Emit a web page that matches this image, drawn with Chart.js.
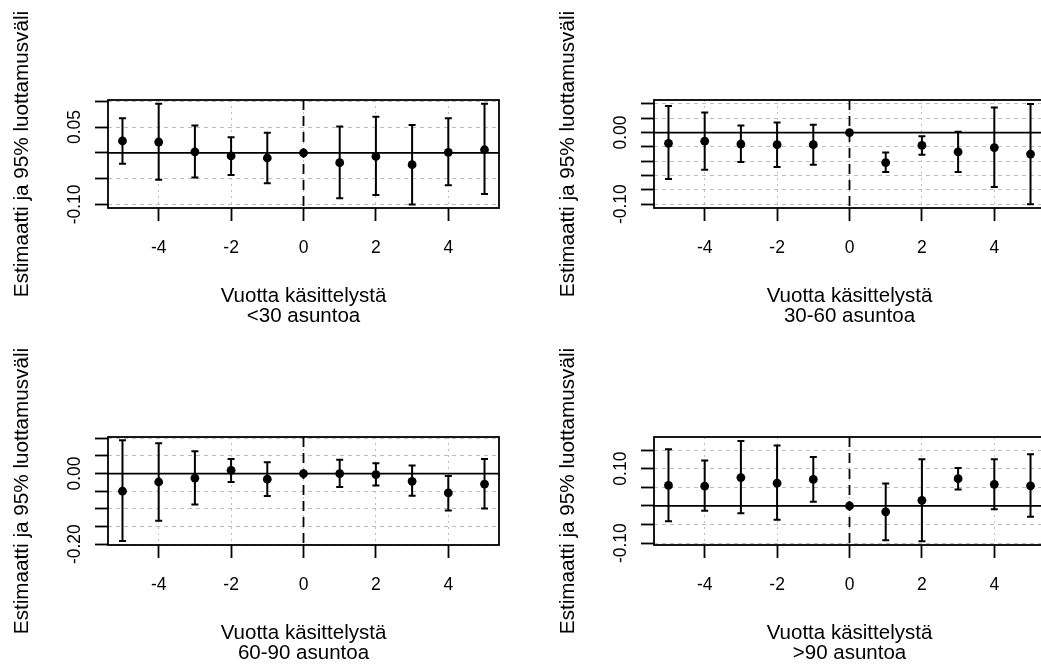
<!DOCTYPE html>
<html>
<head>
<meta charset="utf-8">
<script src="https://cdn.jsdelivr.net/npm/chart.js@4.4.1/dist/chart.umd.min.js"></script>
<style>
  html, body { margin: 0; padding: 0; background: #fff; }
  body { width: 1041px; height: 671px; overflow: hidden; position: relative; }
  canvas { position: absolute; }
</style>
</head>
<body>
<canvas id="p1" width="520" height="337" style="left:0px;top:0px"></canvas>
<canvas id="p2" width="560" height="337" style="left:520px;top:0px"></canvas>
<canvas id="p3" width="520" height="337" style="left:0px;top:337px"></canvas>
<canvas id="p4" width="560" height="337" style="left:520px;top:337px"></canvas>
<script>
// vuodet käsittelystä
const years = [-5, -4, -3, -2, -1, 0, 1, 2, 3, 4, 5];
const xTicks = [-4, -2, 0, 2, 4];
const xTickLabels = ['-4', '-2', '0', '2', '4'];

// <30 asuntoa
const est1 = [0.023, 0.021, 0.002, -0.006, -0.010, 0, -0.019, -0.007, -0.023, 0.001, 0.006];
const lo1 = [-0.021, -0.052, -0.048, -0.043, -0.059, 0, -0.088, -0.082, -0.100, -0.063, -0.080];
const hi1 = [0.067, 0.095, 0.053, 0.030, 0.039, 0, 0.051, 0.070, 0.054, 0.067, 0.095];
const yTicks1 = [-0.10, -0.05, 0, 0.05, 0.10];
const yLabels1 = ['-0.10', '', '', '0.05', ''];

// 30-60 asuntoa
const est2 = [-0.015, -0.012, -0.016, -0.017, -0.017, 0, -0.042, -0.018, -0.027, -0.021, -0.030];
const lo2 = [-0.065, -0.052, -0.041, -0.048, -0.045, 0, -0.055, -0.031, -0.055, -0.076, -0.100];
const hi2 = [0.037, 0.028, 0.010, 0.014, 0.011, 0, -0.028, -0.005, 0.001, 0.035, 0.040];
const yTicks2 = [-0.10, -0.08, -0.06, -0.04, -0.02, 0, 0.02, 0.04];
const yLabels2 = ['-0.10', '', '', '', '', '0.00', '', ''];

// 60-90 asuntoa
const est3 = [-0.050, -0.024, -0.013, 0.009, -0.016, 0, 0.000, -0.003, -0.022, -0.055, -0.030];
const lo3 = [-0.191, -0.134, -0.088, -0.024, -0.064, 0, -0.038, -0.034, -0.063, -0.105, -0.099];
const hi3 = [0.094, 0.086, 0.063, 0.041, 0.032, 0, 0.039, 0.029, 0.023, -0.007, 0.041];
const yTicks3 = [-0.20, -0.15, -0.10, -0.05, 0, 0.05, 0.10];
const yLabels3 = ['-0.20', '', '', '', '0.00', '', ''];

// >90 asuntoa
const est4 = [0.055, 0.053, 0.076, 0.061, 0.071, 0, -0.016, 0.015, 0.073, 0.058, 0.054];
const lo4 = [-0.041, -0.013, -0.020, -0.037, 0.011, 0, -0.092, -0.095, 0.044, -0.009, -0.029];
const hi4 = [0.152, 0.122, 0.174, 0.162, 0.131, 0, 0.060, 0.125, 0.102, 0.125, 0.139];
const yTicks4 = [-0.10, -0.05, 0, 0.05, 0.10, 0.15];
const yLabels4 = ['-0.10', '', '', '', '0.10', ''];

const FONT = "'Liberation Sans', Arial, Helvetica, sans-serif";
Chart.defaults.color = '#000';
Chart.defaults.font.family = FONT;

// virhepalkit, nollaviivat ja kehys
const errorBars = {
  id: 'errorBars',
  beforeDatasetsDraw(chart, args, opts) {
    const { ctx, chartArea: a, scales: { x, y } } = chart;
    ctx.save();
    ctx.strokeStyle = '#000';
    ctx.lineWidth = 1.8;
    const y0 = y.getPixelForValue(0);
    ctx.beginPath();
    ctx.moveTo(a.left, y0);
    ctx.lineTo(a.right, y0);
    ctx.stroke();
    const x0 = x.getPixelForValue(0);
    ctx.setLineDash([10, 6]);
    ctx.beginPath();
    ctx.moveTo(x0, a.top);
    ctx.lineTo(x0, a.bottom);
    ctx.stroke();
    ctx.setLineDash([]);
    ctx.lineWidth = 2;
    opts.lower.forEach((lo, i) => {
      const hi = opts.upper[i];
      if (lo === hi) return;
      const px = x.getPixelForValue(years[i]);
      const p1 = y.getPixelForValue(lo);
      const p2 = y.getPixelForValue(hi);
      ctx.beginPath();
      ctx.moveTo(px, p1); ctx.lineTo(px, p2);
      ctx.moveTo(px - 3.5, p1); ctx.lineTo(px + 3.5, p1);
      ctx.moveTo(px - 3.5, p2); ctx.lineTo(px + 3.5, p2);
      ctx.stroke();
    });
    ctx.restore();
  },
  afterDraw(chart) {
    const { ctx, chartArea: a } = chart;
    ctx.save();
    ctx.strokeStyle = '#000';
    ctx.lineWidth = 1.8;
    ctx.strokeRect(a.left, a.top, a.right - a.left, a.bottom - a.top);
    ctx.restore();
  }
};

function makePanel(id, est, lo, hi, yTicks, yLabels, yMin, yMax, subtitle, rightPad, leftPad) {
  return new Chart(document.getElementById(id), {
    type: 'scatter',
    data: {
      datasets: [{
        data: years.map((v, i) => ({ x: v, y: est[i] })),
        pointRadius: 4.4,
        pointBackgroundColor: '#000',
        pointBorderWidth: 0,
        showLine: false
      }]
    },
    options: {
      responsive: false,
      animation: false,
      layout: { padding: { left: leftPad, top: 100, right: rightPad, bottom: 11 } },
      plugins: {
        legend: { display: false },
        tooltip: { enabled: false },
        errorBars: { lower: lo, upper: hi }
      },
      scales: {
        x: {
          type: 'linear',
          min: -5.4,
          max: 5.4,
          afterBuildTicks: s => { s.ticks = xTicks.map(v => ({ value: v })); },
          afterFit: s => { s.height = 118; },
          ticks: {
            font: { size: 17.5 },
            padding: 17,
            maxRotation: 0,
            autoSkip: false,
            callback: (v, i) => xTickLabels[i]
          },
          grid: { color: '#bdbdbd', lineWidth: 1, tickColor: '#000', tickWidth: 1.8, tickLength: 13 },
          border: { display: false, dash: [2, 4] },
          title: {
            display: true,
            text: ['Vuotta käsittelystä', subtitle],
            font: { size: 20.5, lineHeight: 0.95 },
            padding: { top: 0, bottom: 0 }
          }
        },
        y: {
          type: 'linear',
          min: yMin,
          max: yMax,
          afterBuildTicks: s => { s.ticks = yTicks.map(v => ({ value: v })); },
          afterFit: s => { s.width = 96; },
          ticks: {
            font: { size: 17.5 },
            padding: 0,
            minRotation: 90,
            maxRotation: 90,
            crossAlign: 'center',
            autoSkip: false,
            callback: (v, i) => yLabels[i]
          },
          grid: { color: '#bdbdbd', lineWidth: 1, tickColor: '#000', tickWidth: 1.8, tickLength: 13 },
          border: { display: false, dash: [4, 4] },
          title: {
            display: true,
            text: 'Estimaatti ja 95% luottamusväli',
            font: { size: 20.7, lineHeight: 0.95 },
            padding: { top: 0, bottom: 0 }
          }
        }
      }
    },
    plugins: [errorBars]
  });
}

makePanel('p1', est1, lo1, hi1, yTicks1, yLabels1, -0.107, 0.1025, '<30 asuntoa', 21, 12);
makePanel('p2', est2, lo2, hi2, yTicks2, yLabels2, -0.1054, 0.0455, '30-60 asuntoa', 35, 38);
makePanel('p3', est3, lo3, hi3, yTicks3, yLabels3, -0.2025, 0.1035, '60-90 asuntoa', 21, 12);
makePanel('p4', est4, lo4, hi4, yTicks4, yLabels4, -0.105, 0.185, '>90 asuntoa', 35, 38);
</script>
</body>
</html>
